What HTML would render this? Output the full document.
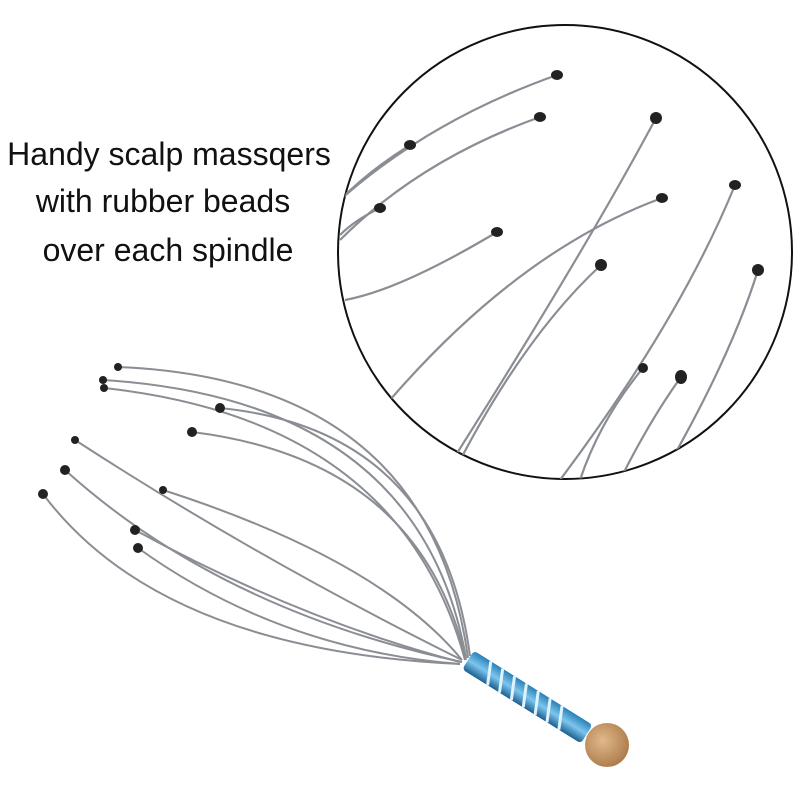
<!DOCTYPE html>
<html><head><meta charset="utf-8"><style>
html,body{margin:0;padding:0;background:#fff;width:800px;height:800px;overflow:hidden}
</style></head><body>
<svg width="800" height="800" viewBox="0 0 800 800" xmlns="http://www.w3.org/2000/svg">
<defs>
<clipPath id="c"><circle cx="565" cy="252" r="227"/></clipPath>
<linearGradient id="blue" x1="0" y1="0" x2="0" y2="1">
<stop offset="0" stop-color="#2a7fb8"/><stop offset="0.5" stop-color="#7cc6ee"/><stop offset="1" stop-color="#1d5f91"/></linearGradient>
<radialGradient id="wood" cx="0.4" cy="0.4" r="0.7"><stop offset="0" stop-color="#e0b98a"/><stop offset="1" stop-color="#a87545"/></radialGradient>
</defs>
<rect width="800" height="800" fill="#fff"/>
<g font-family="Liberation Sans, sans-serif" font-size="32" fill="#111" text-anchor="middle">
<text x="169" y="165">Handy scalp massqers</text>
<text x="163" y="212">with rubber beads</text>
<text x="168" y="261">over each spindle</text>
</g>
<circle cx="565" cy="252" r="227" fill="#fff" stroke="#111" stroke-width="2"/>
<g clip-path="url(#c)" stroke="#8a8e94" stroke-width="2.2" fill="none">
<path d="M557 75 Q430 120 340 200"/>
<path d="M540 117 Q420 160 340 240"/>
<path d="M410 145 Q370 170 340 200"/>
<path d="M380 208 Q355 220 340 235"/>
<path d="M497 232 Q400 290 345 300"/>
<path d="M656 118 Q580 260 440 480"/>
<path d="M662 198 Q520 250 390 400"/>
<path d="M601 265 Q520 340 450 480"/>
<path d="M735 185 Q680 320 560 480"/>
<path d="M758 270 Q730 360 660 480"/>
<path d="M681 377 Q650 420 620 480"/>
<path d="M643 368 Q600 420 580 480"/>
</g>
<g fill="#222">
<ellipse cx="557" cy="75" rx="6" ry="5"/><ellipse cx="540" cy="117" rx="6" ry="5"/>
<ellipse cx="410" cy="145" rx="6" ry="5"/><ellipse cx="380" cy="208" rx="6" ry="5"/>
<ellipse cx="497" cy="232" rx="6" ry="5"/><ellipse cx="656" cy="118" rx="6" ry="6"/>
<ellipse cx="662" cy="198" rx="6" ry="5"/><ellipse cx="601" cy="265" rx="6" ry="6"/>
<ellipse cx="735" cy="185" rx="6" ry="5"/><ellipse cx="758" cy="270" rx="6" ry="6"/>
<ellipse cx="681" cy="377" rx="6" ry="7"/><ellipse cx="643" cy="368" rx="5" ry="5"/>
</g>
<g stroke="#8a8e94" stroke-width="2" fill="none">
<path d="M118 367 Q430 380 468 658"/>
<path d="M103 380 Q420 400 466 658"/>
<path d="M104 388 Q400 420 465 660"/>
<path d="M220 408 Q440 430 470 656"/>
<path d="M192 432 Q420 460 466 660"/>
<path d="M75 440 Q260 560 462 660"/>
<path d="M65 470 Q220 610 462 662"/>
<path d="M43 494 Q160 650 460 664"/>
<path d="M163 490 Q380 560 462 660"/>
<path d="M135 530 Q300 620 460 662"/>
<path d="M138 548 Q280 650 460 664"/>
</g>
<g fill="#222">
<circle cx="118" cy="367" r="4"/><circle cx="103" cy="380" r="4"/><circle cx="104" cy="388" r="4"/>
<circle cx="220" cy="408" r="5"/><circle cx="192" cy="432" r="5"/><circle cx="75" cy="440" r="4"/>
<circle cx="65" cy="470" r="5"/><circle cx="43" cy="494" r="5"/><circle cx="163" cy="490" r="4"/>
<circle cx="135" cy="530" r="5"/><circle cx="138" cy="548" r="5"/>
</g>
<g transform="translate(468 660) rotate(32)">
<rect x="0" y="-11" width="140" height="22" rx="4" fill="url(#blue)"/>
<path d="M20 -11 l10 22 M34 -11 l10 22 M48 -11 l10 22 M62 -11 l10 22 M76 -11 l10 22 M90 -11 l10 22 M104 -11 l10 22" stroke="#dff3fb" stroke-width="3"/>
</g>
<circle cx="607" cy="745" r="22" fill="url(#wood)"/>
</svg>
</body></html>
